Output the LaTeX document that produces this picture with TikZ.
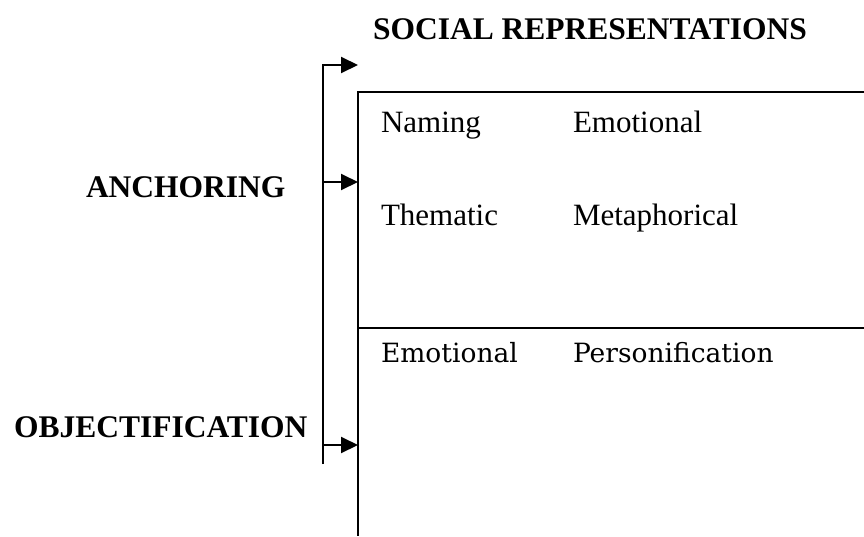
\documentclass[tikz,border=0pt]{standalone}
\usepackage{fontspec}
\setmainfont{Liberation Serif}
\newfontfamily\cellfont{DejaVu Serif}
\usetikzlibrary{arrows.meta}

\begin{document}
\begin{tikzpicture}[x=1pt,y=-1pt,line width=2pt,
  heading/.style={font=\fontsize{31.5}{36}\selectfont\bfseries,inner sep=0,anchor=base west},
  entry/.style={font=\fontsize{31}{36}\selectfont,inner sep=0,anchor=base west},
  lowentry/.style={font=\cellfont\fontsize{26.5}{32}\selectfont,inner sep=0,anchor=base west},
  feed/.style={-{Triangle[length=17pt,width=16pt]}}]
\useasboundingbox (0,0) rectangle (864,536);
% bracket and its three arrows
\coordinate (brtop) at (323,65);
\coordinate (brbot) at (323,464);
\coordinate (intop) at (358,65);
\coordinate (anc) at (323,182);
\coordinate (obj) at (323,445);
% the two-part box, open at the right and at the bottom
\coordinate (boxnw) at (358,92);
\coordinate (boxne) at (864,92);
\coordinate (boxsw) at (358,536);
\coordinate (midw) at (358,328);
\coordinate (mide) at (864,328);
\draw (boxne) -- (boxnw) -- (boxsw);
\draw (midw) -- (mide);
\draw[feed] (brbot) -- (brtop) -- (intop);
\draw[feed] (anc) -- (anc -| boxnw);
\draw[feed] (obj) -- (obj -| boxnw);
% headings
\node[heading] (socrep) at (372,39) {SOCIAL REPRESENTATIONS};
\node[heading] (anchoring) at (85,197) {ANCHORING};
\node[heading] (objectif) at (13,437) {OBJECTIFICATION};
% upper part
\node[entry] (naming) at (380,132) {Naming};
\node[entry] (emotup) at (572,132) {Emotional};
\node[entry] (thematic) at (380,225) {Thematic};
\node[entry] (metaph) at (572,225) {Metaphorical};
% lower part
\node[lowentry] (emotlow) at (380,362) {Emotional};
\node[lowentry] (person) at (572,362) {Personification};
\end{tikzpicture}
\end{document}
